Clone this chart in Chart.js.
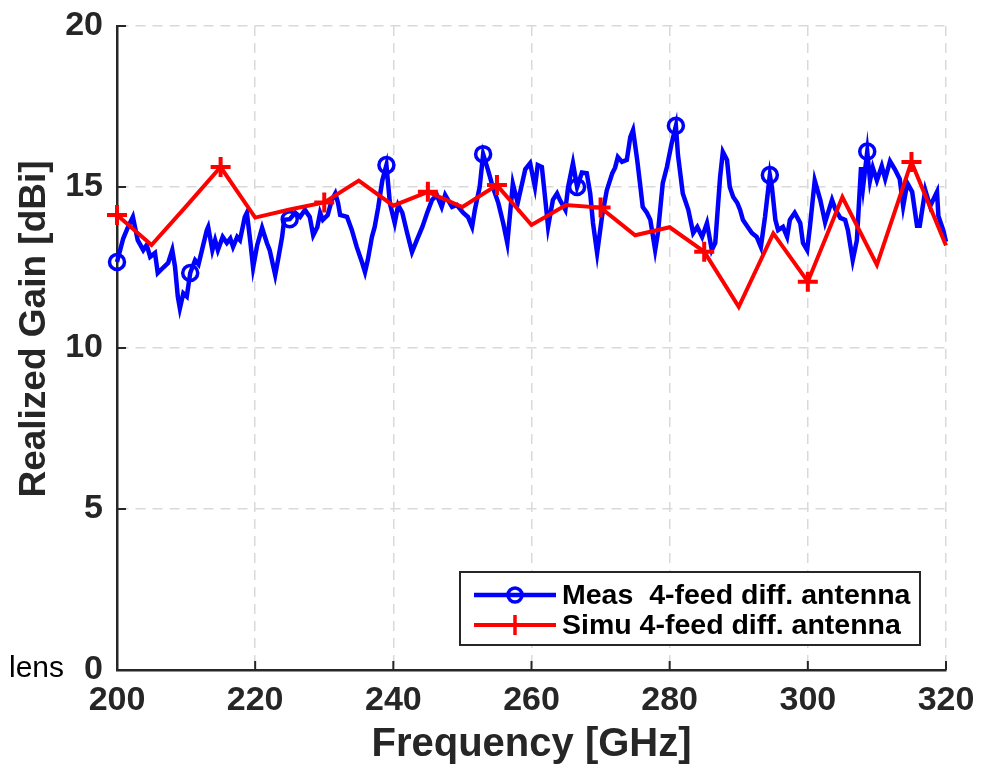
<!DOCTYPE html>
<html>
<head>
<meta charset="utf-8">
<script src="https://cdn.jsdelivr.net/npm/chart.js@4.4.1/dist/chart.umd.min.js"></script>
<style>
  html, body { margin: 0; padding: 0; background: #ffffff; }
  #wrap { width: 988px; height: 767px; }
</style>
</head>
<body>
<div id="wrap"><canvas id="c" width="988" height="767"></canvas></div>
<script>
// ---- data ----
const xTicks = [200, 220, 240, 260, 280, 300, 320];
const yTicks = [0, 5, 10, 15, 20];

const simuFreq = [200, 205, 210, 215, 220, 225, 230, 235, 240, 245, 250, 255, 260, 265, 270, 275, 280, 285, 290, 295, 300, 305, 310, 315, 320];
const simuGain = [14.13, 13.2, 14.4, 15.62, 14.05, 14.3, 14.52, 15.2, 14.42, 14.85, 14.38, 15.06, 13.82, 14.44, 14.36, 13.5, 13.75, 12.99, 11.28, 13.56, 12.06, 14.69, 12.58, 15.78, 13.18];
const simuMarkers = [200, 215, 230, 245, 255, 270, 285, 300, 315];

const measFreq = [200.0, 200.9, 201.6, 202.3, 203.0, 203.8, 204.3, 204.8, 205.5, 205.9, 206.7, 207.4, 208.0, 208.4, 208.8, 209.1, 209.6, 210.1, 210.6, 211.3, 211.8, 212.3, 213.0, 213.2, 213.8, 214.2, 214.6, 215.3, 215.9, 216.4, 216.8, 217.4, 217.8, 218.5, 218.8, 219.3, 219.7, 220.3, 221.0, 221.7, 222.1, 222.9, 223.3, 223.9, 224.2, 225.0, 225.8, 226.5, 227.2, 227.9, 228.4, 229.0, 229.4, 229.8, 230.5, 231.1, 231.6, 232.0, 232.3, 233.3, 234.0, 234.7, 235.5, 235.9, 236.3, 236.9, 237.3, 237.8, 238.4, 239.0, 239.5, 240.2, 240.7, 241.3, 242.0, 242.7, 243.4, 244.2, 244.9, 245.6, 246.3, 247.0, 247.5, 248.5, 249.2, 250.1, 250.8, 251.4, 251.8, 252.5, 253.0, 253.7, 254.4, 255.2, 255.9, 256.5, 257.3, 258.0, 259.1, 259.8, 260.5, 260.9, 261.5, 262.0, 262.4, 263.1, 263.7, 264.1, 264.9, 265.3, 266.0, 266.6, 267.3, 268.0, 268.5, 268.9, 269.5, 270.2, 270.9, 271.7, 272.1, 272.5, 273.1, 273.8, 274.3, 274.7, 275.3, 275.7, 276.1, 276.7, 277.2, 277.9, 278.3, 279.0, 279.6, 280.3, 280.9, 281.2, 281.9, 282.7, 283.4, 284.0, 284.7, 285.4, 286.1, 286.6, 287.3, 287.7, 288.3, 288.7, 289.2, 289.8, 290.2, 290.6, 291.3, 291.9, 292.6, 293.2, 293.8, 294.5, 294.8, 295.3, 295.7, 296.4, 297.0, 297.4, 298.1, 298.9, 299.3, 299.9, 300.3, 301.0, 301.8, 302.5, 303.5, 304.0, 304.7, 305.4, 305.8, 306.5, 307.1, 307.7, 308.0, 308.6, 309.0, 309.4, 310.0, 310.7, 311.2, 311.9, 312.6, 313.3, 313.8, 314.4, 315.1, 315.8, 316.2, 317.0, 317.7, 318.7, 318.9, 319.6, 320.0];
const measGain = [12.67, 13.4, 13.76, 14.07, 13.35, 13.04, 13.2, 12.83, 12.95, 12.33, 12.5, 12.64, 13.04, 12.52, 11.6, 11.23, 11.7, 11.6, 12.33, 12.73, 12.6, 13.04, 13.66, 13.76, 13.04, 13.35, 13.04, 13.45, 13.26, 13.4, 13.14, 13.45, 13.35, 14.07, 14.2, 13.3, 12.5, 13.2, 13.73, 13.26, 13.04, 12.27, 12.73, 13.45, 13.98, 14.0, 14.2, 14.07, 14.29, 14.07, 13.5, 13.76, 14.2, 13.98, 14.13, 14.6, 14.8, 14.5, 14.13, 14.07, 13.66, 13.14, 12.64, 12.36, 12.73, 13.45, 13.76, 14.35, 15.2, 15.68, 14.5, 13.88, 14.44, 14.2, 13.57, 12.98, 13.35, 13.76, 14.2, 14.6, 14.75, 14.38, 14.75, 14.38, 14.44, 14.2, 14.07, 13.76, 14.29, 15.0, 16.02, 15.53, 15.0, 14.5, 13.88, 13.26, 15.1, 14.5, 15.55, 15.74, 15.0, 15.68, 15.62, 14.6, 13.76, 14.6, 14.8, 14.6, 14.29, 15.0, 15.74, 15.0, 15.45, 15.43, 14.8, 13.88, 12.95, 14.07, 14.9, 15.43, 15.6, 15.93, 15.78, 15.84, 16.55, 16.77, 15.84, 15.12, 14.38, 14.2, 13.98, 13.04, 13.57, 15.12, 15.62, 16.37, 16.9, 16.0, 14.8, 14.29, 13.57, 13.76, 13.45, 13.88, 13.04, 13.26, 15.31, 16.09, 15.84, 15.0, 14.69, 14.5, 14.29, 13.98, 13.76, 13.57, 13.45, 13.14, 14.07, 15.37, 15.0, 13.98, 13.66, 13.76, 13.45, 13.98, 14.2, 13.88, 13.26, 13.04, 13.76, 15.2, 14.6, 13.9, 14.6, 14.3, 14.04, 13.98, 13.66, 12.73, 13.35, 15.62, 15.0, 16.1, 15.2, 15.6, 15.2, 15.65, 15.25, 15.8, 15.55, 15.25, 14.4, 15.12, 14.85, 13.8, 13.8, 14.9, 14.4, 14.85, 14.1, 13.66, 13.3];
const measMarkers = [200.0, 210.6, 225.0, 239.0, 253.0, 266.6, 280.9, 294.5, 308.6];

const measLabel = 'Meas  4-feed diff. antenna';
const simuLabel = 'Simu 4-feed diff. antenna';
const xTitle = 'Frequency [GHz]';
const yTitle = 'Realized Gain [dBi]';
const sideText = 'lens';

// ---- styles ----
const FONT = "'Liberation Sans', Arial, Helvetica, sans-serif";
const AX = '#262626';
const BLUE = '#0000ff';
const RED = '#ff0000';

const toXY = (xs, ys) => xs.map((x, i) => ({x: x, y: ys[i]}));

const inwardTicks = {
  id: 'inwardTicks',
  beforeDatasetsDraw(chart) {
    const {ctx, chartArea: a, scales: {x, y}} = chart;
    ctx.save();
    ctx.strokeStyle = AX;
    ctx.lineWidth = 2;
    ctx.beginPath();
    yTicks.forEach(v => { const py = y.getPixelForValue(v); ctx.moveTo(a.left, py); ctx.lineTo(a.left + 9, py); });
    xTicks.forEach(v => { const px = x.getPixelForValue(v); ctx.moveTo(px, a.bottom); ctx.lineTo(px, a.bottom - 9); });
    ctx.stroke();
    ctx.restore();
  }
};

const boxLegend = {
  id: 'boxLegend',
  afterDraw(chart) {
    const {ctx} = chart;
    const bx = 460, by = 572, bw = 460, bh = 73;
    ctx.save();
    ctx.fillStyle = '#ffffff';
    ctx.fillRect(bx, by, bw, bh);
    ctx.strokeStyle = AX;
    ctx.lineWidth = 2;
    ctx.strokeRect(bx, by, bw, bh);
    const rows = [
      {ds: chart.data.datasets[0], y: by + 23},
      {ds: chart.data.datasets[1], y: by + 53}
    ];
    rows.forEach(r => {
      ctx.strokeStyle = r.ds.borderColor;
      ctx.lineWidth = r.ds.borderWidth;
      ctx.beginPath(); ctx.moveTo(474, r.y); ctx.lineTo(556, r.y); ctx.stroke();
      ctx.lineWidth = 3.5;
      if (r.ds.pointStyle === 'cross') {
        ctx.beginPath();
        ctx.moveTo(515, r.y - 10); ctx.lineTo(515, r.y + 10);
        ctx.moveTo(505, r.y); ctx.lineTo(525, r.y);
        ctx.stroke();
      } else {
        ctx.beginPath(); ctx.arc(515, r.y, 7, 0, Math.PI * 2); ctx.stroke();
      }
      ctx.fillStyle = '#000000';
      ctx.font = 'bold 28.5px ' + FONT;
      ctx.textBaseline = 'middle';
      ctx.textAlign = 'left';
      ctx.fillText(r.ds.label, 562, r.y + 1);
    });
    // y-axis title (placed a little above the axis centre, as in the reference)
    ctx.save();
    ctx.translate(35, 329);
    ctx.rotate(-Math.PI / 2);
    ctx.font = 'bold 37px ' + FONT;
    ctx.fillStyle = AX;
    ctx.textAlign = 'center';
    ctx.textBaseline = 'middle';
    ctx.fillText(yTitle, 0, 0);
    ctx.restore();
    // clipped side text
    ctx.font = '30px ' + FONT;
    ctx.fillStyle = '#000000';
    ctx.textBaseline = 'alphabetic';
    ctx.textAlign = 'right';
    ctx.fillText(sideText, 64, 677);
    ctx.restore();
  }
};

new Chart(document.getElementById('c'), {
  type: 'line',
  data: {
    datasets: [
      {
        label: measLabel,
        data: toXY(measFreq, measGain),
        borderColor: BLUE,
        borderWidth: 4.5,
        tension: 0,
        pointStyle: 'circle',
        pointRadius: ctx => (ctx.raw && measMarkers.includes(ctx.raw.x)) ? 7.5 : 0,
        pointHoverRadius: 0,
        pointBorderColor: BLUE,
        pointBackgroundColor: 'rgba(0,0,0,0)',
        pointBorderWidth: 3.5,
        clip: 14,
        order: 2
      },
      {
        label: simuLabel,
        data: toXY(simuFreq, simuGain),
        borderColor: RED,
        borderWidth: 4,
        tension: 0,
        pointStyle: 'cross',
        pointRadius: ctx => (ctx.raw && simuMarkers.includes(ctx.raw.x)) ? 10 : 0,
        pointHoverRadius: 0,
        pointBorderColor: RED,
        pointBorderWidth: 4,
        clip: 14,
        order: 1
      }
    ]
  },
  options: {
    responsive: false,
    animation: false,
    events: [],
    layout: { padding: { left: 0, right: 42, top: 26, bottom: 0 } },
    plugins: { legend: { display: false }, tooltip: { enabled: false } },
    scales: {
      x: {
        type: 'linear',
        min: 200, max: 320,
        afterBuildTicks: s => { s.ticks = xTicks.map(v => ({value: v})); },
        afterFit: s => { s.height = 97; s.paddingLeft = 0; s.paddingRight = 0; },
        grid: { color: '#d9d9d9', lineWidth: 1.5, drawTicks: false },
        border: { display: true, color: AX, width: 2.5, dash: [10, 7] },
        ticks: { color: AX, padding: 10, maxRotation: 0, font: { family: FONT, size: 34, weight: 'bold' } },
        title: { display: true, text: xTitle, color: AX, padding: { top: 0, bottom: 2 }, font: { family: FONT, size: 40, weight: 'bold', lineHeight: 1 } }
      },
      y: {
        type: 'linear',
        min: 0, max: 20,
        afterBuildTicks: s => { s.ticks = yTicks.map(v => ({value: v})); },
        afterFit: s => { s.width = 117; s.paddingTop = 0; s.paddingBottom = 0; },
        grid: { color: '#d9d9d9', lineWidth: 1.5, drawTicks: false },
        border: { display: true, color: AX, width: 2.5, dash: [10, 7] },
        ticks: { color: AX, padding: 14, font: { family: FONT, size: 34, weight: 'bold' } },
        title: { display: false, text: yTitle }
      }
    }
  },
  plugins: [inwardTicks, boxLegend]
});
</script>
</body>
</html>
